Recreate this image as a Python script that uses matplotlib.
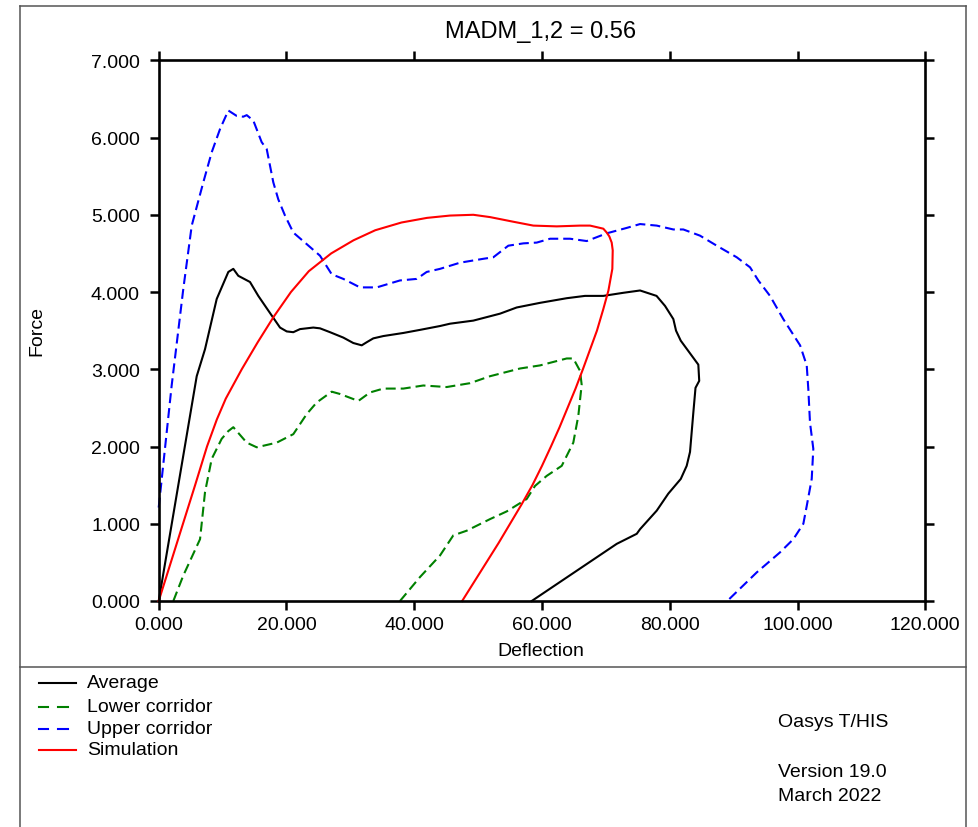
import matplotlib
matplotlib.use("Agg")
import matplotlib.pyplot as plt
from matplotlib.lines import Line2D
from matplotlib.ticker import FormatStrFormatter

plt.rcParams['font.family'] = ['Liberation Sans', 'DejaVu Sans']

# Curva promedio (negra)
avg_x = [0, 5.95, 7.25, 9.08, 10.9, 11.68, 12.46, 14.29, 15.59, 17.16, 18.99, 20.04,
         21.07, 22.12, 24.2, 25.25, 26.82, 28.9, 30.46, 31.78, 32.56, 33.59, 35.16,
         38.29, 40.9, 44.04, 45.6, 49.25, 53.43, 56.04, 59.69, 63.87, 66.73, 69.6,
         72.73, 75.35, 77.93, 79.26, 80.56, 80.98, 81.72, 84.47, 84.61, 84.03, 83.69,
         83.17, 82.65, 81.72, 79.77, 77.96, 75.35, 74.83, 71.7, 58.39]
avg_y = [0, 2.91, 3.26, 3.91, 4.26, 4.30, 4.21, 4.13, 3.95, 3.76, 3.54, 3.49,
         3.48, 3.52, 3.54, 3.53, 3.48, 3.41, 3.34, 3.31, 3.35, 3.40, 3.43,
         3.47, 3.51, 3.56, 3.59, 3.63, 3.72, 3.80, 3.86, 3.92, 3.95, 3.95,
         3.99, 4.02, 3.95, 3.82, 3.65, 3.50, 3.37, 3.06, 2.85, 2.76, 2.44,
         1.93, 1.75, 1.58, 1.39, 1.17, 0.93, 0.87, 0.74, 0.0]

# Corredor inferior (verde)
low_x = [2.29, 3.85, 6.47, 7.25, 8.3, 9.86, 10.9, 11.68, 13.78, 15.34, 18.47, 21.07,
         23.17, 24.73, 27.08, 28.38, 31.25, 33.08, 35.16, 38.29, 41.42, 45.08, 48.73,
         51.86, 56.56, 59.69, 63.87, 64.9, 65.95, 66.21, 65.69, 64.9, 63.09, 60.74,
         58.91, 57.6, 54.48, 51.86, 48.21, 46.12, 44.04, 40.9, 37.77]
low_y = [0.0, 0.33, 0.80, 1.41, 1.84, 2.10, 2.20, 2.25, 2.05, 1.99, 2.05, 2.16,
         2.42, 2.57, 2.71, 2.68, 2.59, 2.70, 2.75, 2.75, 2.79, 2.77, 2.82,
         2.91, 3.01, 3.05, 3.14, 3.14, 2.98, 2.80, 2.40, 2.05, 1.75, 1.62,
         1.49, 1.32, 1.16, 1.06, 0.91, 0.85, 0.59, 0.31, 0.0]

# Corredor superior (azul)
up_x = [0, 2.03, 3.85, 5.17, 6.98, 8.3, 9.6, 10.9, 12.21, 13.24, 13.78, 14.81,
        16.12, 16.91, 17.94, 18.72, 19.77, 21.07, 23.17, 25.25, 27.08, 28.9, 31.51,
        34.13, 37.77, 40.39, 41.95, 44.04, 47.17, 50.8, 52.38, 54.73, 57.08, 59.17,
        61.26, 64.39, 67.0, 70.13, 73.26, 75.35, 77.96, 80.56, 82.12, 84.73, 87.35,
        90.48, 92.57, 93.86, 95.69, 97.77, 100.4, 101.44, 101.69, 101.95, 102.47,
        102.22, 101.44, 100.91, 99.34, 97.26, 93.61, 89.0]
up_y = [1.21, 2.79, 4.04, 4.86, 5.42, 5.81, 6.11, 6.35, 6.28, 6.27, 6.29, 6.22,
        5.94, 5.85, 5.42, 5.20, 4.99, 4.77, 4.62, 4.47, 4.23, 4.17, 4.06,
        4.06, 4.15, 4.17, 4.26, 4.30, 4.38, 4.43, 4.45, 4.60, 4.63, 4.64,
        4.69, 4.69, 4.66, 4.76, 4.83, 4.88, 4.86, 4.81, 4.81, 4.73, 4.60,
        4.45, 4.32, 4.15, 3.95, 3.65, 3.31, 3.05, 2.74, 2.31, 1.97,
        1.58, 1.23, 1.0, 0.80, 0.63, 0.37, 0.0]

# Simulacion (roja), leida con mas puntos para que se vea suave
sim_x = [0, 1.9, 3.8, 5.7, 7.56, 9.1, 10.5, 13.0, 15.5, 18.0, 20.7, 23.5,
         27.0, 30.5, 33.9, 38.0, 42.0, 45.6, 49.25, 51.87, 55.51, 58.64, 62.3,
         65.95, 67.52, 68.57, 69.6, 70.13, 70.54, 70.91, 71.07, 71.01, 70.4, 69.6,
         68.6, 67.5, 66.4, 65.25, 64.0, 62.75, 61.4, 60.0, 58.5, 56.8, 55.0,
         53.2, 51.3, 49.4, 47.5]
sim_y = [0, 0.5, 1.0, 1.5, 2.0, 2.35, 2.62, 3.0, 3.35, 3.68, 4.0, 4.27,
         4.5, 4.67, 4.8, 4.9, 4.96, 4.99, 5.0, 4.97, 4.91, 4.86, 4.85,
         4.86, 4.86, 4.84, 4.82, 4.77, 4.72, 4.64, 4.54, 4.30, 4.02, 3.78,
         3.5, 3.25, 3.0, 2.75, 2.5, 2.25, 2.0, 1.75, 1.5, 1.25, 1.0,
         0.75, 0.5, 0.25, 0.0]

x_ticks = [0, 20, 40, 60, 80, 100, 120]
y_ticks = [0, 1, 2, 3, 4, 5, 6, 7]

nombres = ['Average', 'Lower corridor', 'Upper corridor', 'Simulation']
colores = ['black', 'green', 'blue', 'red']
estilos = ['-', (0, (4.8, 2.4)), (0, (4.8, 2.4)), '-']

W, H = 979, 828
fig = plt.figure(figsize=(W / 100, H / 100), dpi=100)

def fx(px):
    return px / W

def fy(py):
    return 1 - py / H

ax = fig.add_axes([fx(158.7), fy(602), fx(925.3) - fx(158.7), fy(61.3) - fy(602)])

series = [(avg_x, avg_y), (low_x, low_y), (up_x, up_y), (sim_x, sim_y)]
for (xs, ys), c, ls in zip(series, colores, estilos):
    ax.plot(xs, ys, color=c, linestyle=ls, lw=1.5, clip_on=False,
            solid_joinstyle='round')

ax.set_xlim(0, 120)
ax.set_ylim(0, 7)
ax.set_xticks(x_ticks)
ax.set_yticks(y_ticks)
ax.xaxis.set_major_formatter(FormatStrFormatter('%.3f'))
ax.yaxis.set_major_formatter(FormatStrFormatter('%.3f'))
ax.tick_params(direction='out', length=6.5, width=1.8, top=True, right=True,
               labelsize=14, colors='black')
ax.tick_params(axis='x', pad=4)
ax.tick_params(axis='y', pad=7)
for s in ax.spines.values():
    s.set_linewidth(1.9)

# textos de ejes y titulo
fig.text(fx(541), fy(32), 'MADM_1,2 = 0.56', ha='center', va='center', fontsize=17)
fig.text(fx(541), fy(652), 'Deflection', ha='center', va='center', fontsize=14)
fig.text(fx(37), fy(331), 'Force', ha='center', va='center', fontsize=14, rotation=90)

# marco exterior y separador
gris = '#555555'
fig.add_artist(Line2D([fx(20), fx(20)], [fy(7), 0], color=gris, lw=1.1))
fig.add_artist(Line2D([fx(966), fx(966)], [fy(7), 0], color=gris, lw=1.1))
fig.add_artist(Line2D([fx(20), fx(966)], [fy(7), fy(7)], color=gris, lw=1.1))
fig.add_artist(Line2D([fx(20), fx(966)], [fy(668), fy(668)], color=gris, lw=1.1))

# leyenda hecha a mano
filas = [684, 708, 730, 751]
for yy, n, c, ls in zip(filas, nombres, colores, estilos):
    if ls == '-':
        fig.add_artist(Line2D([fx(39), fx(76)], [fy(yy), fy(yy)], color=c, lw=1.5))
    else:
        fig.add_artist(Line2D([fx(39), fx(48)], [fy(yy), fy(yy)], color=c, lw=1.5))
        fig.add_artist(Line2D([fx(58), fx(68)], [fy(yy), fy(yy)], color=c, lw=1.5))
    fig.text(fx(87), fy(yy), n, ha='left', va='center', fontsize=14)

fig.text(fx(778), fy(723), 'Oasys T/HIS', ha='left', va='center', fontsize=14)
fig.text(fx(778), fy(773), 'Version 19.0', ha='left', va='center', fontsize=14)
fig.text(fx(778), fy(797), 'March 2022', ha='left', va='center', fontsize=14)

fig.savefig('out.png', dpi=100)
